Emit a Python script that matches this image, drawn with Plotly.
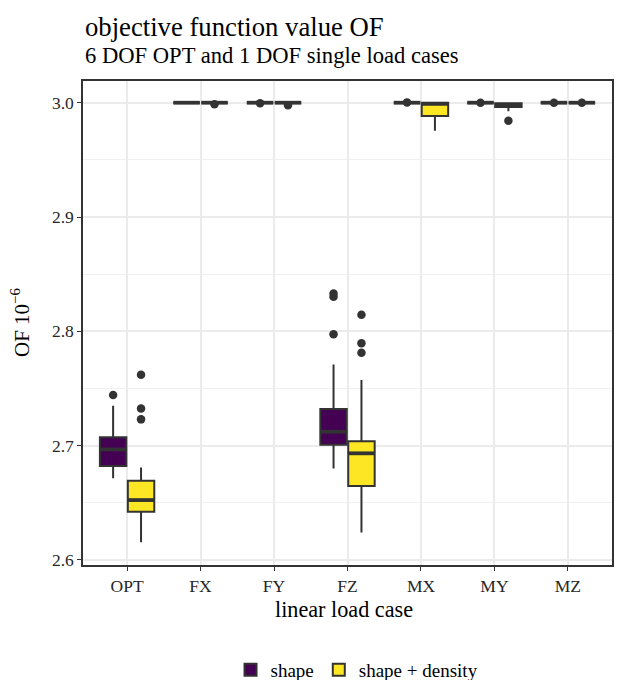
import plotly.graph_objects as go

cases = ["OPT", "FX", "FY", "FZ", "MX", "MY", "MZ"]

# group "shape"
shape_q1 = [2.6822, 3.0000, 3.0000, 2.7008, 3.0000, 3.0000, 3.0000]
shape_med = [2.6967, 3.0000, 3.0000, 2.7122, 3.0000, 3.0000, 3.0000]
shape_q3 = [2.7073, 3.0000, 3.0000, 2.7320, 3.0000, 3.0000, 3.0000]
shape_lo = [2.6714, 3.0000, 3.0000, 2.6801, 3.0000, 3.0000, 3.0000]
shape_hi = [2.7349, 3.0000, 3.0000, 2.7711, 3.0000, 3.0000, 3.0000]
shape_out_case = ["OPT", "FY", "FZ", "FZ", "FZ", "MX", "MY", "MZ"]
shape_out_val = [2.7443, 2.9995, 2.8332, 2.8303, 2.7974, 3.0003, 3.0000, 3.0000]

# group "shape + density"
sd_q1 = [2.6422, 3.0000, 3.0000, 2.6647, 2.9884, 2.9962, 3.0000]
sd_med = [2.6524, 3.0000, 3.0000, 2.6933, 2.9990, 2.9980, 3.0000]
sd_q3 = [2.6693, 3.0000, 3.0000, 2.7038, 3.0000, 2.9995, 3.0000]
sd_lo = [2.6154, 3.0000, 3.0000, 2.6241, 2.9755, 2.9925, 3.0000]
sd_hi = [2.6810, 3.0000, 3.0000, 2.7574, 3.0000, 2.9995, 3.0000]
sd_out_case = ["OPT", "OPT", "OPT", "FX", "FY", "FZ", "FZ", "FZ", "MY", "MZ"]
sd_out_val = [2.7620, 2.7326, 2.7230, 2.9986, 2.9977, 2.8145, 2.7895, 2.7813, 2.9843, 3.0000]

y_ticks = [2.6, 2.7, 2.8, 2.9, 3.0]

DODGE = 0.19
BOXW = 0.36
DARK = "#333333"
PURPLE = "#440154"
YELLOW = "#FDE725"
FONT = "Liberation Serif"

# the page body has an 8px margin, so the figure is 8px smaller than the window
W, H = 616, 672
L, T = 75, 73
PW, PH = 529, 484

pos = {c: i + 1 for i, c in enumerate(cases)}

fig = go.Figure()


def add_group(name, offset, q1, med, q3, lo, hi, fill, out_case, out_val):
    xs = [pos[c] + offset for c in cases]
    fig.add_trace(go.Box(
        name=name, x=xs, q1=q1, median=med, q3=q3,
        lowerfence=lo, upperfence=hi,
        width=BOXW, fillcolor=fill, line=dict(color=DARK, width=2),
        whiskerwidth=0, boxpoints=False, hoverinfo="skip",
    ))
    # thicker median bars (ggplot fatten)
    mx, my = [], []
    for x, m in zip(xs, med):
        mx += [x - BOXW / 2, x + BOXW / 2, None]
        my += [m, m, None]
    fig.add_trace(go.Scatter(x=mx, y=my, mode="lines",
                             line=dict(color=DARK, width=3.8),
                             showlegend=False, hoverinfo="skip"))
    fig.add_trace(go.Scatter(
        x=[pos[c] + offset for c in out_case], y=out_val,
        mode="markers", marker=dict(color=DARK, size=8.5), showlegend=False,
        hoverinfo="skip"))


add_group("shape", -DODGE, shape_q1, shape_med, shape_q3, shape_lo, shape_hi,
          PURPLE, shape_out_case, shape_out_val)
add_group("shape + density", DODGE, sd_q1, sd_med, sd_q3, sd_lo, sd_hi,
          YELLOW, sd_out_case, sd_out_val)

axis_common = dict(
    showgrid=True, gridcolor="#EBEBEB", gridwidth=1.6,
    showline=True, linecolor=DARK, linewidth=1.5, mirror=True,
    ticks="outside", ticklen=4, tickcolor=DARK, tickwidth=1.2,
    tickfont=dict(size=17.5, color="#262626", family=FONT), zeroline=False,
    automargin=False,
)

fig.update_layout(
    width=W, height=H,
    margin=dict(l=L, r=W - L - PW, t=T, b=H - T - PH),
    plot_bgcolor="white", paper_bgcolor="white",
    font=dict(family=FONT, size=17, color="#1a1a1a"),
    legend=dict(orientation="h", x=0.518, xanchor="center",
                yref="container", y=(H - 662) / H, yanchor="middle",
                font=dict(size=19, family=FONT, color="#000000"),
                itemwidth=30),
    xaxis=dict(range=[0.4, 7.6], tickvals=list(pos.values()), ticktext=cases,
               **axis_common),
    yaxis=dict(range=[2.5956, 3.019], tickvals=y_ticks, tickformat=".1f",
               minor=dict(dtick=0.05, tick0=2.55, showgrid=True,
                          gridcolor="#F0F0F0", gridwidth=0.9),
               **axis_common),
    annotations=[
        dict(text="objective function value OF", xref="paper", yref="paper",
             x=0, y=1 + (81 - 27) / PH, xanchor="left", yanchor="middle",
             showarrow=False, font=dict(size=26.7, family=FONT, color="#000000")),
        dict(text="6 DOF OPT and 1 DOF single load cases", xref="paper", yref="paper",
             x=0, y=1 + (81 - 55) / PH, xanchor="left", yanchor="middle",
             showarrow=False, font=dict(size=22.6, family=FONT, color="#000000")),
        dict(text="linear load case", xref="paper", yref="paper",
             x=0.4934, y=-(609 - 565) / PH, xanchor="center", yanchor="middle",
             showarrow=False, font=dict(size=22.2, family=FONT, color="#000000")),
        dict(text="OF 10<sup>−6</sup>", xref="paper", yref="paper",
             x=(20 - 83) / PW, y=0.5, xanchor="center", yanchor="middle",
             showarrow=False, textangle=-90,
             font=dict(size=21, family=FONT, color="#000000")),
    ],
)

fig.write_html("out.html")
